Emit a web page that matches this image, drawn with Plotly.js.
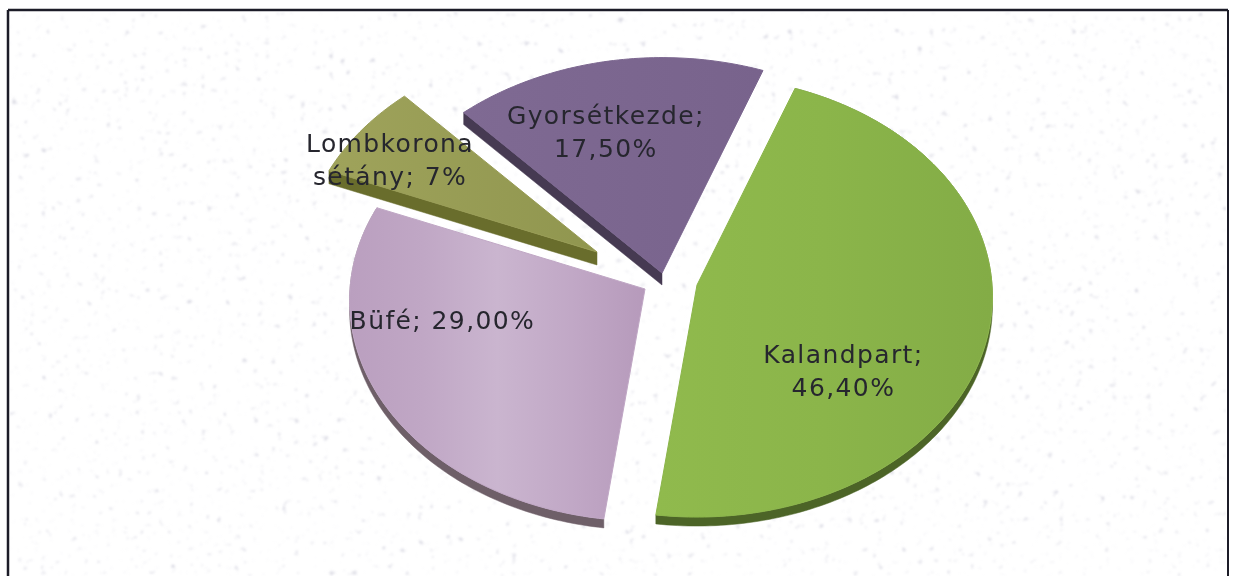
<!DOCTYPE html>
<html>
<head>
<meta charset="utf-8">
<script src="https://cdn.plot.ly/plotly-3.0.1.min.js"></script>
<style>
html,body{margin:0;padding:0;width:1234px;height:576px;overflow:hidden;background:#fff}
#wrap{position:relative;width:1234px;height:576px}
#tex{position:absolute;left:0;top:0}
#chart{position:absolute;left:0;top:0;width:1234px;height:576px;filter:blur(0.45px)}
#chart .annotation-text{letter-spacing:1.4px}
</style>
</head>
<body>
<div id="wrap">
<svg id="tex" width="1234" height="576" xmlns="http://www.w3.org/2000/svg">
  <filter id="speck" x="0" y="0" width="100%" height="100%">
    <feTurbulence type="fractalNoise" baseFrequency="0.17" numOctaves="3" seed="11"/>
    <feColorMatrix type="matrix" values="0 0 0 0 0.55  0 0 0 0 0.55  0 0 0 0 0.65  3.0 3.0 0 0 -3.75"/>
    <feGaussianBlur stdDeviation="0.9"/>
  </filter>
  <rect x="10" y="12" width="1216" height="564" filter="url(#speck)" opacity="0.6"/>
</svg>
<div id="chart"></div>
</div>
<script>
// Data
var categories = ['Kalandpart', 'Büfé', 'Lombkorona sétány', 'Gyorsétkezde'];
var shareValues = [46.4, 29.0, 7.0, 17.5];
var shareLabels = ['46,40%', '29,00%', '7%', '17,50%'];

// Styling and 3D pie geometry
var labelTexts = [
  categories[0] + ';<br>' + shareLabels[0],
  categories[1] + '; ' + shareLabels[1],
  'Lombkorona<br>sétány; ' + shareLabels[2],
  categories[3] + ';<br>' + shareLabels[3]
];
var labelAnchors = [[843, 371], [442, 320], [390, 160], [606, 132]];
var sliceApex = [[697, 285], [645, 289], [597, 252], [662, 273]];
var sliceScale = [1, 1, 1, 1.03];
var sliceDepth = [9, 9, 13, 12];
var showArcSide = [true, true, false, false];
var showEdgeSide = [false, false, true, true];
var sideColors = ['#4c6427', '#6e5f68', '#696d2c', '#463a52'];
var faceEdgeColors = ['#8bb54a', '#c0a7c5', '#989c55', '#7b668f'];
var faceScales = [
  [[0, '#90ba4d'], [0.5, '#8bb54a'], [1, '#83ac46']],
  [[0, '#ba9fbf'], [0.25, '#c0a7c5'], [0.5, '#cab5cf'], [0.75, '#c1a8c6'], [1, '#b69abb']],
  [[0, '#9fa35b'], [1, '#90964f']],
  [[0, '#7f6a93'], [1, '#78638c']]
];
var startAngle = 20.4, radiusX = 295, radiusY = 220, perspective = 0.052;

function project(apex, scale, deg) {
  var t = deg * Math.PI / 180;
  var u = Math.sin(t), v = Math.cos(t);
  var s = scale / (1 + perspective * v);
  return [apex[0] + radiusX * u * s, apex[1] - radiusY * v * s];
}

function sideTrace(points, depth, color) {
  // A strip below the given outline, closed as one polygon so nothing overlaps
  var lower = points.slice().reverse();
  var xs = points.map(function (p) { return p[0]; }).concat(lower.map(function (p) { return p[0]; }), [points[0][0]]);
  var ys = points.map(function (p) { return p[1]; }).concat(lower.map(function (p) { return p[1] + depth; }), [points[0][1]]);
  return {type: 'scatter', mode: 'lines', x: xs, y: ys, fill: 'toself', fillcolor: color,
    line: {width: 0.5, color: color, simplify: false}, hoverinfo: 'skip', showlegend: false};
}

var total = shareValues.reduce(function (a, b) { return a + b; }, 0);
var sides = [], faces = [];
var angle = startAngle;
shareValues.forEach(function (val, i) {
  var sweep = val / total * 360;
  var apex = sliceApex[i];
  var arc = [];
  var n = Math.max(12, Math.round(sweep));
  for (var k = 0; k <= n; k++) arc.push(project(apex, sliceScale[i], angle + sweep * k / n));
  angle += sweep;

  var d = sliceDepth[i];
  if (showArcSide[i]) sides.push(sideTrace(arc, d, sideColors[i]));
  if (showEdgeSide[i]) sides.push(sideTrace([apex, arc[0]], d, sideColors[i]));

  var pts = [apex].concat(arc, [apex]);
  faces.push({type: 'scatter', mode: 'lines', name: categories[i],
    x: pts.map(function (p) { return p[0]; }), y: pts.map(function (p) { return p[1]; }),
    fill: 'toself', fillgradient: {type: 'horizontal', colorscale: faceScales[i]},
    line: {width: 1, color: faceEdgeColors[i], simplify: false}, hoverinfo: 'name', showlegend: false});
});

var annotations = labelTexts.map(function (t, i) {
  return {x: labelAnchors[i][0], y: labelAnchors[i][1], xref: 'x', yref: 'y', text: t, showarrow: false,
    align: 'center', font: {family: 'DejaVu Sans', size: 25, color: '#26262e'}};
});

var frameColor = '#1c1c28';
Plotly.newPlot('chart', sides.concat(faces), {
  width: 1234, height: 576,
  margin: {l: 0, r: 0, t: 0, b: 0},
  paper_bgcolor: 'rgba(0,0,0,0)', plot_bgcolor: 'rgba(0,0,0,0)',
  xaxis: {range: [0, 1234], visible: false, fixedrange: true},
  yaxis: {range: [576, 0], visible: false, fixedrange: true},
  annotations: annotations,
  shapes: [
    {type: 'line', xref: 'paper', yref: 'paper', x0: 8 / 1234, x1: 8 / 1234, y0: 0, y1: 1 - 10 / 576, line: {color: frameColor, width: 2.5}},
    {type: 'line', xref: 'paper', yref: 'paper', x0: 8 / 1234, x1: 1228 / 1234, y0: 1 - 10 / 576, y1: 1 - 10 / 576, line: {color: frameColor, width: 2.5}},
    {type: 'line', xref: 'paper', yref: 'paper', x0: 1228 / 1234, x1: 1228 / 1234, y0: 0, y1: 1 - 10 / 576, line: {color: frameColor, width: 2}}
  ]
}, {displayModeBar: false, staticPlot: true});
</script>
</body>
</html>
